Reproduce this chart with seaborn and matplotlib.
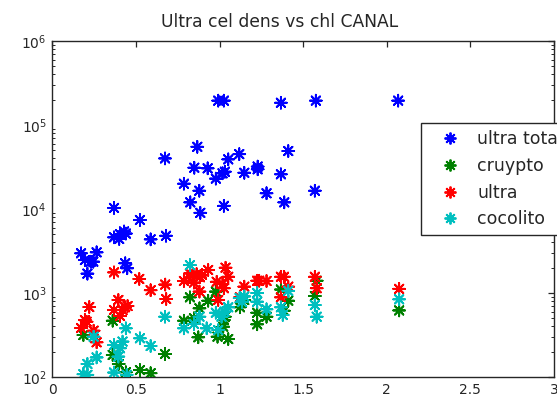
import numpy as np
import pandas as pd
import matplotlib
matplotlib.use("Agg")
import matplotlib.pyplot as plt
import seaborn as sns

title = "Ultra cel dens vs chl CANAL"
series_names = ["ultra total", "cruypto", "ultra", "cocolito"]
series_colors = ["#0000ff", "#008000", "#ff0000", "#00bfbf"]
x_ticks = [0, 0.5, 1, 1.5, 2, 2.5, 3]
x_tick_labels = ["0", "0.5", "1", "1.5", "2", "2.5", "3"]

ultra_total_x = [0.992, 1.026, 1.367, 1.576, 2.068, 0.867, 0.674, 0.849, 0.929, 1.052, 1.118,
                 1.032, 1.018, 0.978, 0.787, 0.879, 0.825, 0.885, 1.026, 0.369, 0.524, 0.369,
                 0.405, 0.429, 0.400, 0.440, 0.588, 0.680, 0.172, 0.265, 0.195, 0.230, 0.245,
                 0.210, 0.436, 0.448, 1.411, 1.148, 1.228, 1.228, 1.367, 1.281, 1.570, 1.387]
ultra_total_y = [1.95e5, 1.95e5, 1.84e5, 1.95e5, 1.95e5, 5.5e4, 4.0e4, 3.1e4, 3.05e4, 3.9e4, 4.5e4,
                 2.78e4, 2.66e4, 2.3e4, 2.0e4, 1.65e4, 1.2e4, 9.0e3, 1.09e4, 1.03e4, 7.4e3, 4.6e3,
                 5.0e3, 5.4e3, 4.4e3, 5.1e3, 4.35e3, 4.8e3, 2.97e3, 3.05e3, 2.47e3, 2.36e3, 2.36e3,
                 1.7e3, 2.26e3, 1.97e3, 4.9e4, 2.7e4, 3.2e4, 2.97e4, 2.59e4, 1.54e4, 1.65e4, 1.2e4]

cruypto_x = [0.361, 0.186, 0.361, 0.397, 0.440, 0.524, 0.588, 0.674, 0.823, 0.787, 0.847,
             0.873, 0.880, 0.932, 0.978, 0.988, 1.052, 1.032, 1.026, 1.022, 1.122, 1.148,
             1.225, 1.225, 1.281, 1.367, 1.411, 1.385, 1.581, 1.570, 2.074]
cruypto_y = [468, 316, 183, 143, 114, 121, 111, 188, 888, 468, 500,
             297, 657, 809, 1040, 302, 283, 522, 477, 397, 676, 826,
             582, 424, 522, 1100, 809, 615, 1400, 921, 620]

ultra_x = [0.369, 0.520, 0.675, 0.588, 0.681, 0.395, 0.221, 0.369, 0.435, 0.420, 0.405,
           0.450, 0.195, 0.205, 0.172, 0.247, 0.265, 0.787, 0.823, 0.839, 0.863, 0.847,
           0.883, 0.895, 0.880, 0.932, 0.983, 0.992, 1.036, 1.052, 1.018, 1.026, 1.148,
           1.122, 1.225, 1.237, 1.281, 1.367, 1.385, 1.411, 1.367, 1.570, 1.581, 2.074]
ultra_y = [1760, 1470, 1260, 1080, 849, 826, 681, 628, 677, 628, 532,
           700, 477, 455, 383, 356, 259, 1390, 1710, 1640, 1680, 1330,
           1540, 1640, 1040, 1880, 1360, 826, 2000, 1560, 1280, 1140, 1190,
           888, 1400, 1400, 1390, 1560, 1560, 1190, 888, 1560, 1140, 1120]

cocolito_x = [0.823, 0.674, 0.440, 0.247, 0.524, 0.588, 0.369, 0.420, 0.405, 0.395, 0.265,
              0.210, 0.186, 0.210, 0.369, 0.445, 0.787, 0.847, 0.880, 0.923, 0.978, 1.012,
              1.052, 0.992, 1.120, 1.148, 1.135, 1.225, 1.225, 1.281, 1.367, 1.378, 1.411,
              1.570, 1.581, 2.074, 1.030]
cocolito_y = [2150, 522, 380, 302, 289, 234, 240, 264, 220, 175, 171,
              143, 108, 106, 113, 106, 380, 428, 522, 380, 582, 522,
              676, 362, 870, 910, 780, 1000, 788, 640, 676, 547, 1060,
              719, 522, 841, 600]

frames = []
for name, xs, ys in [("ultra total", ultra_total_x, ultra_total_y),
                     ("cruypto", cruypto_x, cruypto_y),
                     ("ultra", ultra_x, ultra_y),
                     ("cocolito", cocolito_x, cocolito_y)]:
    frames.append(pd.DataFrame({"chl": xs, "dens": ys, "serie": name}))
df = pd.concat(frames, ignore_index=True)

sns.set_style("white")
plt.rcParams["font.family"] = ["DejaVu Sans"]

fig = plt.figure(figsize=(5.57, 4.0), dpi=100)
ax = fig.add_axes([52.3 / 557, 1 - 377 / 400, 501.7 / 557, 336 / 400])

sns.scatterplot(data=df, x="chl", y="dens", hue="serie", hue_order=series_names,
                palette=dict(zip(series_names, series_colors)),
                marker=(8, 2, 0), s=72, linewidth=1.35, ax=ax, zorder=3)

ax.set_yscale("log")
ax.set_xlim(0, 3)
ax.set_ylim(1e2, 1e6)
ax.set_xticks(x_ticks)
ax.set_xticklabels(x_tick_labels)
ax.set_xlabel("")
ax.set_ylabel("")
ax.set_title(title, fontsize=12.3, pad=10, x=0.453)

for s in ax.spines.values():
    s.set_visible(True)
    s.set_color("#262626")
    s.set_linewidth(1.0)

ax.tick_params(axis="both", which="major", direction="in", length=4, width=0.9,
               color="#262626", labelsize=10, top=True, right=True, pad=4)
ax.tick_params(axis="y", which="minor", direction="in", length=2.2, width=0.7,
               color="#262626", left=True, right=True)
ax.yaxis.set_minor_locator(matplotlib.ticker.LogLocator(base=10, subs=np.arange(2, 10)))
ax.yaxis.set_minor_formatter(matplotlib.ticker.NullFormatter())
ax.grid(False)

sns.move_legend(ax, loc="upper left", bbox_to_anchor=(0.734, 0.755), title=None,
                frameon=True, fontsize=12.5, borderaxespad=0, borderpad=0.4,
                handlelength=2.64, handletextpad=0.23, labelspacing=0.5,
                fancybox=False, framealpha=1, edgecolor="#262626")
leg = ax.get_legend()
leg.get_frame().set_linewidth(1.0)

fig.savefig("out.png", dpi=100)
